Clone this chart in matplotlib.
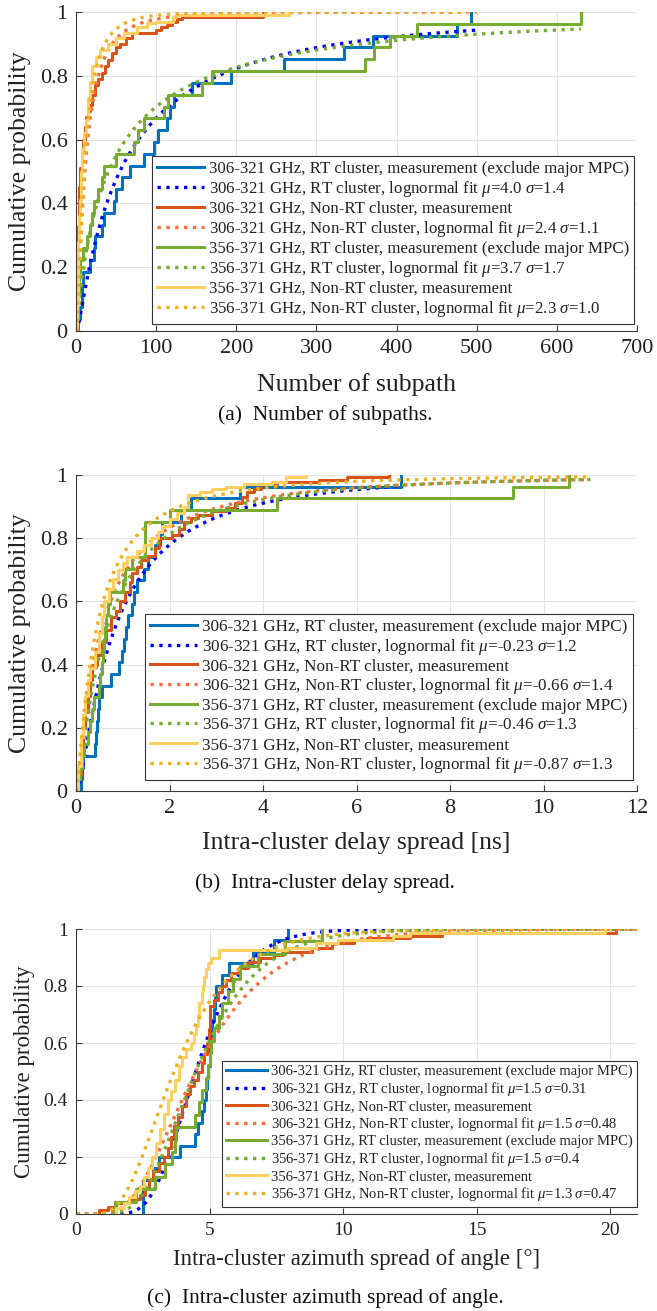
import math
import numpy as np
import matplotlib.pyplot as plt

plt.rcParams['font.family'] = ['Liberation Serif', 'DejaVu Serif']
plt.rcParams['mathtext.fontset'] = 'custom'
plt.rcParams['mathtext.rm'] = 'Liberation Serif'
plt.rcParams['mathtext.it'] = 'Liberation Serif:italic'

# colours (measurement / fit)
c_meas = ['#0072BD', '#D95319', '#77AC30', '#FFD060']
c_fit = ['#0000FF', '#FF6A3A', '#77AC30', '#EDB120']
groups = ['306-321 GHz, RT cluster', '306-321 GHz, Non-RT cluster',
          '356-371 GHz, RT cluster', '356-371 GHz, Non-RT cluster']

# ---------- (a) number of subpaths ----------
rt306_a = [3, 5, 7, 8, 9, 18, 22, 24, 33, 35, 47, 50, 57, 67, 85, 97, 102,
           113, 117, 122, 145, 193, 260, 335, 370, 475, 493]
rt356_a = [1, 2, 3, 4, 4, 5, 9, 14, 17, 20, 23, 27, 32, 35, 50, 72, 77, 85,
           110, 115, 157, 170, 360, 372, 392, 425, 630]
nrt306_a_x = [1, 2, 3, 4, 5, 7, 9, 11, 13, 15, 17, 20, 24, 28, 32, 36, 40,
              45, 50, 55, 62, 70, 100, 106, 113, 120, 126, 132, 233]
nrt306_a_y = [0.07, 0.2, 0.33, 0.45, 0.51, 0.56, 0.6, 0.64, 0.67, 0.69, 0.71,
              0.74, 0.77, 0.79, 0.81, 0.83, 0.85, 0.87, 0.89, 0.9, 0.92, 0.934,
              0.945, 0.953, 0.96, 0.969, 0.977, 0.984, 1.0]
nrt356_a_x = [1, 2, 3, 4, 5, 6, 8, 10, 12, 15, 18, 20, 25, 30, 40, 50, 60, 76,
              88, 100, 121, 125, 266]
nrt356_a_y = [0.08, 0.18, 0.28, 0.36, 0.41, 0.5, 0.57, 0.62, 0.66, 0.73, 0.78,
              0.83, 0.86, 0.88, 0.9, 0.92, 0.935, 0.953, 0.965, 0.97, 0.984,
              0.99, 1.0]
mu_a = ['4.0', '2.4', '3.7', '2.3']
sig_a = ['1.4', '1.1', '1.7', '1.0']
fit_end_a = [500, 500, 630, 500]

# ---------- (b) delay spread ----------
rt306_b = [0.1, 0.12, 0.15, 0.4, 0.42, 0.45, 0.48, 0.5, 0.55, 0.75, 0.93,
           0.98, 1.03, 1.08, 1.12, 1.2, 1.25, 1.3, 1.45, 1.55, 1.7, 1.8, 1.85,
           2.25, 2.45, 3.5, 6.95]
rt356_b = [0.05, 0.08, 0.12, 0.18, 0.25, 0.3, 0.35, 0.38, 0.5, 0.52, 0.55,
           0.57, 0.6, 0.62, 0.65, 0.68, 0.72, 1.0, 1.05, 1.2, 1.47, 1.47, 1.48,
           2.0, 4.3, 9.35, 10.55]
nrt306_b_x = [0.05, 0.1, 0.15, 0.2, 0.25, 0.3, 0.35, 0.45, 0.55, 0.65, 0.75,
              0.85, 0.95, 1.05, 1.15, 1.2, 1.3, 1.4, 1.55, 1.7, 1.78, 2.05,
              2.2, 2.3, 2.45, 2.6, 2.9, 3.2, 3.4, 3.55, 3.65, 3.8, 3.95, 4.3,
              5.2, 5.8, 6.7]
nrt306_b_y = [0.05, 0.12, 0.2, 0.25, 0.3, 0.35, 0.4, 0.43, 0.47, 0.51, 0.55,
              0.57, 0.6, 0.63, 0.66, 0.69, 0.71, 0.73, 0.745, 0.77, 0.8, 0.81,
              0.83, 0.85, 0.865, 0.875, 0.885, 0.895, 0.91, 0.93, 0.945,
              0.955, 0.97, 0.978, 0.985, 0.993, 1.0]
nrt356_b_x = [0.05, 0.1, 0.15, 0.2, 0.25, 0.3, 0.4, 0.5, 0.55, 0.6, 0.7, 0.8,
              0.9, 1.0, 1.1, 1.3, 1.45, 1.6, 1.75, 1.85, 2.0, 2.15, 2.3, 2.4,
              2.65, 2.9, 3.2, 3.6, 4.2, 4.5, 4.93]
nrt356_b_y = [0.08, 0.17, 0.24, 0.3, 0.35, 0.39, 0.44, 0.5, 0.55, 0.6, 0.64,
              0.67, 0.7, 0.72, 0.74, 0.76, 0.78, 0.8, 0.82, 0.84, 0.86, 0.88,
              0.9, 0.937, 0.947, 0.955, 0.963, 0.97, 0.979, 0.995, 1.0]
mu_b = ['-0.23', '-0.66', '-0.46', '-0.87']
sig_b = ['1.2', '1.4', '1.3', '1.3']
fit_end_b = [7.0, 11.0, 11.0, 11.0]

# ---------- (c) azimuth spread ----------
rt306_c = [2.5, 2.5, 2.5, 2.9, 3.1, 3.9, 4.45, 4.55, 4.7, 4.8, 4.85, 4.9,
           4.95, 5.0, 5.02, 5.05, 5.1, 5.15, 5.2, 5.24, 5.45, 5.72, 6.63, 7.41,
           7.95]
rt356_c = [1.45, 2.26, 2.96, 3.35, 3.6, 3.7, 3.76, 4.44, 4.6, 4.7, 4.85, 4.95,
           5.0, 5.05, 5.15, 5.35, 5.45, 5.7, 5.89, 6.14, 6.83, 7.82, 9.2]
nrt306_c_x = [0.85, 1.2, 1.5, 2.0, 2.4, 2.6, 2.75, 2.9, 3.1, 3.3, 3.45, 3.55,
              3.65, 3.8, 3.95, 4.1, 4.25, 4.4, 4.55, 4.7, 4.8, 4.9, 4.97, 5.0,
              5.15, 5.3, 5.45, 5.6, 5.8, 6.1, 6.45, 6.9, 7.4, 7.76, 8.82, 9.6,
              10.4, 10.9, 12.5, 13.7, 20.2]
nrt306_c_y = [0.013, 0.026, 0.04, 0.053, 0.066, 0.09, 0.12, 0.15, 0.18, 0.2,
              0.23, 0.27, 0.31, 0.34, 0.38, 0.42, 0.45, 0.47, 0.5, 0.53, 0.56,
              0.6, 0.65, 0.73, 0.75, 0.78, 0.8, 0.82, 0.845, 0.862, 0.885, 0.9,
              0.909, 0.92, 0.935, 0.95, 0.96, 0.97, 0.975, 0.987, 1.0]
nrt356_c_x = [1.5, 1.8, 2.0, 2.2, 2.4, 2.55, 2.7, 2.85, 3.0, 3.15, 3.3, 3.45,
              3.55, 3.7, 3.85, 3.95, 4.1, 4.3, 4.4, 4.5, 4.55, 4.6, 4.7, 4.75,
              4.8, 4.85, 4.95, 5.05, 5.35, 7.9, 9.0, 9.8, 11.85, 12.5, 19.8]
nrt356_c_y = [0.02, 0.04, 0.06, 0.08, 0.1, 0.13, 0.16, 0.2, 0.25, 0.3, 0.35,
              0.4, 0.43, 0.47, 0.52, 0.55, 0.58, 0.6, 0.63, 0.66, 0.7, 0.74,
              0.78, 0.8, 0.83, 0.86, 0.88, 0.9, 0.926, 0.935, 0.95, 0.96,
              0.975, 0.985, 1.0]
mu_c = ['1.5', '1.5', '1.5', '1.3']
sig_c = ['0.31', '0.48', '0.4', '0.47']
fit_end_c = [21, 21, 21, 21]


def ecdf(samples):
    s = np.sort(samples)
    return s, np.arange(1, len(s) + 1) / len(s)


def lognorm_cdf(x, mu, sigma):
    z = (np.log(x) - mu) / (sigma * math.sqrt(2))
    return 0.5 * (1 + np.vectorize(math.erf)(z))


def panel(ax, meas, mus, sigs, fit_end, xlim, xticks, xlabel, caption,
          fs_tick, fs_lab, fs_leg, leg_anchor, lab_x, cap_y, xl_y, lsp):
    for i in range(4):
        mx, my = meas[i]
        mx = np.asarray(mx, float)
        my = np.asarray(my, float)
        lab = groups[i] + ', measurement'
        if i in (0, 2):
            lab += ' (exclude major MPC)'
        ax.step(np.r_[mx[0], mx], np.r_[0, my], where='post', color=c_meas[i],
                lw=2.2, label=lab)
        xf = np.linspace(fit_end[i] * 1e-4, fit_end[i], 600)
        ax.plot(xf, lognorm_cdf(xf, float(mus[i]), float(sigs[i])), ':',
                color=c_fit[i], lw=2.4,
                label=groups[i] + ', lognormal fit $\\mu$=%s $\\sigma$=%s'
                % (mus[i], sigs[i]))
    ax.set_xlim(*xlim)
    ax.set_ylim(0, 1)
    ax.set_xticks(xticks)
    ax.set_yticks([0, 0.2, 0.4, 0.6, 0.8, 1])
    ax.set_yticklabels(['0', '0.2', '0.4', '0.6', '0.8', '1'])
    ax.grid(True, color='#E3E3E3', lw=0.8)
    ax.set_axisbelow(True)
    for s in ['top', 'right']:
        ax.spines[s].set_visible(False)
    for s in ['left', 'bottom']:
        ax.spines[s].set_color('#3A3A3A')
        ax.spines[s].set_linewidth(0.8)
    ax.tick_params(direction='in', length=4, width=0.8, colors='#3A3A3A',
                   labelsize=fs_tick, labelcolor='#222222')
    ax.tick_params(axis='x', pad=6)
    ax.tick_params(axis='y', pad=6)
    ax.set_xlabel(xlabel, fontsize=fs_lab, color='#222222', va='center')
    ax.set_ylabel('Cumulative probability', fontsize=fs_lab, color='#222222',
                  va='center')
    ax.xaxis.set_label_coords(0.5, xl_y)
    ax.yaxis.set_label_coords(lab_x, 0.5)
    leg = ax.legend(loc='lower right', bbox_to_anchor=leg_anchor,
                    fontsize=fs_leg, frameon=True, fancybox=False,
                    framealpha=1, edgecolor='#333333', borderaxespad=0,
                    handlelength=2.75, handletextpad=0.3, borderpad=0.3,
                    labelspacing=lsp)
    leg.get_frame().set_linewidth(0.8)
    for t in leg.get_texts():
        t.set_color('#222222')
    fig.text(0.495, cap_y, caption, ha='center', va='center', fontsize=15.5,
             color='#111111')


fig = plt.figure(figsize=(6.57, 13.11), dpi=100)
W, H = 657.0, 1311.0
ax_a = fig.add_axes([76 / W, (H - 331) / H, 561 / W, 319 / H])
ax_b = fig.add_axes([76 / W, (H - 791) / H, 561 / W, 316 / H])
ax_c = fig.add_axes([76 / W, (H - 1214) / H, 561 / W, 285 / H])

panel(ax_a,
      [ecdf(rt306_a), (nrt306_a_x, nrt306_a_y), ecdf(rt356_a),
       (nrt356_a_x, nrt356_a_y)],
      mu_a, sig_a, fit_end_a, (0, 700), range(0, 701, 100),
      'Number of subpath', '(a)  Number of subpaths.',
      16, 18.5, 12.2, (1 - 3 / 561, 7 / 319), -56 / 561, (H - 415) / H,
      -54 / 319, 0.12)
panel(ax_b,
      [ecdf(rt306_b), (nrt306_b_x, nrt306_b_y), ecdf(rt356_b),
       (nrt356_b_x, nrt356_b_y)],
      mu_b, sig_b, fit_end_b, (0, 12), range(0, 13, 2),
      'Intra-cluster delay spread [ns]', '(b)  Intra-cluster delay spread.',
      16, 18.5, 12.3, (1 - 4 / 561, 11 / 316), -56 / 561, (H - 883) / H,
      -52 / 316, 0.1)
panel(ax_c,
      [ecdf(rt306_c), (nrt306_c_x, nrt306_c_y), ecdf(rt356_c),
       (nrt356_c_x, nrt356_c_y)],
      mu_c, sig_c, fit_end_c, (0, 21), [0, 5, 10, 15, 20],
      'Intra-cluster azimuth spread of angle [\u00b0]',
      '(c)  Intra-cluster azimuth spread of angle.',
      14, 16.5, 10.5, (1.0, 7 / 285), -51 / 561, (H - 1298) / H,
      -46 / 285, 0.12)

fig.savefig('out.png', dpi=100)
